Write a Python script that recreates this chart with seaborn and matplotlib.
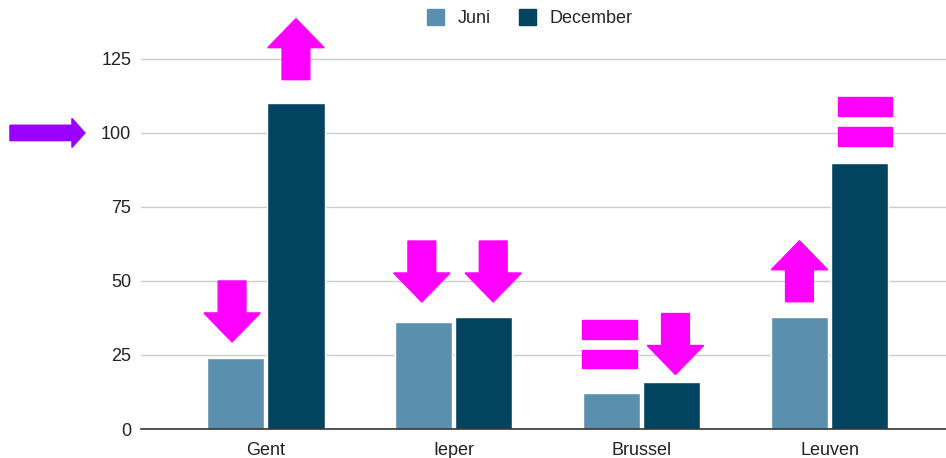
import matplotlib
matplotlib.use("Agg")
import matplotlib.pyplot as plt
import seaborn as sns
import pandas as pd
from matplotlib.patches import Polygon, Rectangle

categories = ["Gent", "Ieper", "Brussel", "Leuven"]
series = ["Juni", "December"]
juni = [24, 36, 12, 38]
december = [110, 38, 16, 90]
yticks = [0, 25, 50, 75, 100, 125]

colors = {"Juni": "#5A90AE", "December": "#02445F"}
MAGENTA = "#FF00FF"
PURPLE = "#9900FF"

df = pd.DataFrame({
    "stad": categories * 2,
    "maand": ["Juni"] * 4 + ["December"] * 4,
    "waarde": juni + december,
})

sns.set_theme(style="white")
plt.rcParams["font.family"] = ["Liberation Sans", "DejaVu Sans"]

fig = plt.figure(figsize=(9.46, 4.58), dpi=100)
ax = fig.add_axes([0.149, 0.0633, 0.851, 0.905])

sns.barplot(data=df, x="stad", y="waarde", hue="maand", order=categories,
            hue_order=series, palette=colors, width=0.64, gap=0.05,
            saturation=1, ax=ax, legend=False)

ax.set_ylim(0, 140)
ax.set_xlim(-0.665, 3.62)
ax.set_yticks(yticks)
ax.yaxis.grid(True, color="#CCCCCC", linewidth=1)
ax.set_axisbelow(True)
for s in ["left", "right", "top"]:
    ax.spines[s].set_visible(False)
ax.spines["bottom"].set_color("#333333")
ax.spines["bottom"].set_linewidth(1.2)
ax.tick_params(axis="both", length=0, labelsize=13, colors="#222222")
ax.tick_params(axis="y", pad=7)
ax.tick_params(axis="x", pad=9)
ax.set_xlabel("")
ax.set_ylabel("")

# Legend
handles = [Rectangle((0, 0), 1, 1, color=colors[s]) for s in series]
fig.legend(handles, series, loc="center", bbox_to_anchor=(0.56, 0.96), ncol=2,
           frameon=False, fontsize=13, handlelength=0.95, handleheight=0.95,
           columnspacing=1.6, handletextpad=0.75)

# Annotation shapes (magenta arrows and equals signs)
HEAD_W = 0.30
SHAFT_W = 0.148
HEAD_L = 9.8
TOTAL_L = 20.6


def arrow(xc, y_base, direction):
    # direction +1 = up (base at bottom), -1 = down (base at top)
    d = direction
    y_neck = y_base + d * (TOTAL_L - HEAD_L)
    y_tip = y_base + d * TOTAL_L
    pts = [
        (xc - SHAFT_W / 2, y_base), (xc + SHAFT_W / 2, y_base),
        (xc + SHAFT_W / 2, y_neck), (xc + HEAD_W / 2, y_neck),
        (xc, y_tip), (xc - HEAD_W / 2, y_neck), (xc - SHAFT_W / 2, y_neck),
    ]
    ax.add_patch(Polygon(pts, closed=True, color=MAGENTA, clip_on=False, zorder=5))


def equals(xc, y_top):
    w = 0.29
    h = 6.3
    gap = 3.7
    ax.add_patch(Rectangle((xc - w / 2, y_top - h), w, h, color=MAGENTA,
                           clip_on=False, zorder=5))
    ax.add_patch(Rectangle((xc - w / 2, y_top - 2 * h - gap), w, h, color=MAGENTA,
                           clip_on=False, zorder=5))

# (x position in category units, base y, kind)
arrow(0 - 0.02 - 0.16, 50, -1)
arrow(0 + 0.16, 118, +1)
arrow(1 - 0.17, 63.5, -1)
arrow(1 + 0.21, 63.5, -1)
equals(2 - 0.17, 36.8)
arrow(2 + 0.18, 39, -1)
arrow(3 - 0.16, 43, +1)
equals(3 + 0.19, 112)

# Purple arrow pointing at 100 on the left
trans = ax.get_yaxis_transform()
px = lambda p: (p - 141) / 805.0
y0 = 100
sh = 2.6
hh = 4.9
pts = [(px(10), y0 - sh), (px(72), y0 - sh), (px(72), y0 - hh), (px(85), y0),
       (px(72), y0 + hh), (px(72), y0 + sh), (px(10), y0 + sh)]
ax.add_patch(Polygon(pts, closed=True, color=PURPLE, transform=trans,
                     clip_on=False, zorder=5))

fig.savefig("out.png", dpi=100)
